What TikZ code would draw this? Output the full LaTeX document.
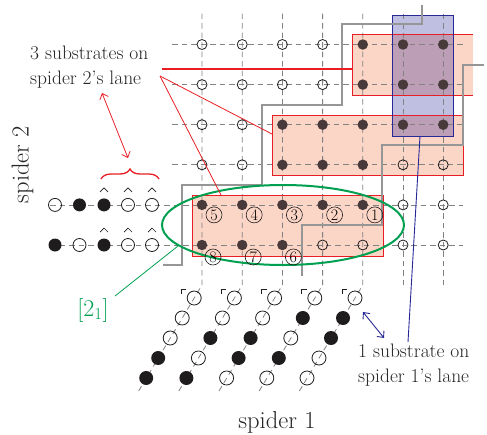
\documentclass[tikz,border=0pt]{standalone}
\usepackage{fontspec}
\usetikzlibrary{arrows.meta,decorations.pathreplacing,calc,shapes.geometric}
\definecolor{dashg}{RGB}{130,130,130}
\definecolor{stairg}{RGB}{150,150,150}
\definecolor{dotk}{RGB}{30,28,28}
\definecolor{dotb}{RGB}{72,58,58}
\definecolor{myred}{RGB}{232,30,36}
\definecolor{rfill}{RGB}{251,213,198}
\definecolor{mygreen}{RGB}{0,160,80}
\definecolor{myblue}{RGB}{40,40,150}
\definecolor{bfill}{RGB}{0,0,140}
\tikzset{
  gridline/.style={dashg, line width=0.8pt, dash pattern=on 5.5pt off 4pt},
  fdot/.style={circle, fill=dotb, inner sep=0pt, minimum size=10.5pt},
  odot/.style={circle, draw=dotk, line width=0.8pt, inner sep=0pt, minimum size=10pt},
  fbig/.style={circle, fill=dotk, inner sep=0pt, minimum size=14pt},
  obig/.style={circle, draw=dotk, line width=0.8pt, inner sep=0pt, minimum size=14pt},
  numc/.style={circle, draw=dotk, line width=0.6pt, inner sep=0pt, minimum size=16pt, font=\fontsize{16}{16}\selectfont},
  rbox/.style={fill=rfill},
  rborder/.style={draw=myred, line width=0.9pt},
  stair/.style={stairg, line width=2pt},
  annot/.style={inner sep=0pt, align=left, font=\fontsize{19.5}{25}\selectfont, text=black!85},
  hatp/.style={dotk, line width=0.7pt},
}
\begin{document}
\begin{tikzpicture}[x=1pt,y=-1pt]
\useasboundingbox (0,0) rectangle (487,434);
% grid coordinates
\foreach \c in {0,...,6}{
  \foreach \r in {0,...,5}{
    \coordinate (g\c\r) at ({202+40.2*\c},{245-40.1*\r});
  }
}
% red box fills and blue box fill
\fill[rbox] (352,34) rectangle (473,95);
\fill[rbox] (272,115) rectangle (463,175);
\fill[rbox] (192,195) rectangle (383,256);
\fill[bfill, fill opacity=0.25] (392,15) rectangle (453,136);
% horizontal dashed lines
\foreach \r in {2,...,5}{
  \draw[gridline] ($(g0\r)+(-30,0)$) -- ($(g6\r)+(20,0)$);
}
\foreach \r in {0,1}{
  \draw[gridline] ($(g0\r)+(-152,0)$) -- ($(g6\r)+(20,0)$);
}
% vertical dashed lines
\foreach \c in {0,...,4}{
  \coordinate (top\c) at ($(g\c5)+(0,-31)$);
  \coordinate (bend\c) at ($(g\c0)+(0,40)$);
  \coordinate (end\c) at ($(bend\c)+(-64,107)$);
  \draw[gridline] (top\c) -- (bend\c) -- (end\c);
}
\foreach \c in {5,6}{
  \draw[gridline] ($(g\c5)+(0,-31)$) -- ($(g\c0)+(0,40)$);
}
% grid dots
\foreach \p in {00,10,20,01,11,21,31,41,22,32,42,23,33,43,53,63,44,54,64,45,55,65}{
  \node[fdot] (d\p) at (g\p) {};
}
\foreach \p in {30,40,50,60,51,61,02,12,52,62,03,13,04,14,24,34,05,15,25,35}{
  \node[odot] (d\p) at (g\p) {};
}
% box borders
\draw[rborder] (473,34) -- (352,34) -- (352,95) -- (473,95);
\draw[rborder] (272,115) rectangle (463,175);
\draw[rborder] (192,195) rectangle (383,256);
\draw[myblue, line width=0.9pt] (392,15) rectangle (453,136);
% spider 2 dots
\foreach \i/\x in {0/55,1/79.5,2/104,3/128,4/152}{
  \coordinate (sa\i) at (\x,204.9);
  \coordinate (sb\i) at (\x,245);
}
\node[obig, minimum size=13pt] (a0) at (sa0) {};
\node[fbig, minimum size=13pt] (a1) at (sa1) {};
\node[fbig, minimum size=13pt] (a2) at (sa2) {};
\node[obig, minimum size=13pt] (a3) at (sa3) {};
\node[obig, minimum size=13pt] (a4) at (sa4) {};
\node[fbig, minimum size=13pt] (b0) at (sb0) {};
\node[obig, minimum size=13pt] (b1) at (sb1) {};
\node[fbig, minimum size=13pt] (b2) at (sb2) {};
\node[obig, minimum size=13pt] (b3) at (sb3) {};
\node[obig, minimum size=13pt] (b4) at (sb4) {};
\foreach \i in {2,3,4}{
  \draw[hatp] ($(sa\i)+(-4,-13)$) -- ($(sa\i)+(0,-17)$) -- ($(sa\i)+(4,-13)$);
  \draw[hatp] ($(sb\i)+(-4,-13)$) -- ($(sb\i)+(0,-17)$) -- ($(sb\i)+(4,-13)$);
}
% spider 1 dots
\foreach \k in {0,...,4}{
  \foreach \c in {0,...,4}{
    \pgfmathsetmacro{\yy}{298+20*\k}
    \pgfmathsetmacro{\xx}{202+40.2*\c-0.6*(\yy-285)}
    \coordinate (s\c\k) at (\xx,\yy);
  }
}
\foreach \c/\k in {3/1,4/1,1/2,2/2,4/2,0/3,2/3,3/3,0/4,1/4}{
  \node[fbig] (e\c\k) at (s\c\k) {};
}
\foreach \c/\k in {0/0,1/0,2/0,3/0,4/0,0/1,1/1,2/1,0/2,3/2,1/3,4/3,2/4,3/4,4/4}{
  \node[obig] (e\c\k) at (s\c\k) {};
}
\foreach \c in {0,...,4}{
  \draw[hatp] ($(s\c0)+(-13,-4)$) -- ($(s\c0)+(-13,-9)$) -- ($(s\c0)+(-8,-9)$);
}
% gray staircases
\draw[stair] (422,5) -- (422,24) -- (342,24) -- (342,105) -- (262,105) -- (262,185) -- (182,185) -- (182,265) -- (163,265);
\draw[stair] (484,65) -- (463,65) -- (463,145) -- (382,145) -- (382,225) -- (302,225) -- (302,276);
% green ellipse
\node[draw=mygreen, line width=2pt, ellipse, minimum width=242pt, minimum height=80pt, inner sep=0pt] (ell) at (283,225) {};
% circled numbers
\foreach \c/\n in {0/5,1/4,2/3,3/2,4/1}{
  \node[numc] (n\n) at ($(g\c1)+(12,10)$) {\n};
}
\foreach \c/\n in {0/8,1/7,2/6}{
  \node[numc] (n\n) at ($(g\c0)+(11,12)$) {\n};
}
% texts
\node[annot, anchor=west] (t2) at (30,67.5) {3 substrates on\\spider 2's lane};
\node[annot, anchor=west] (t1) at (358,365) {1 substrate on\\spider 1's lane};
\node[inner sep=0pt, font=\fontsize{24.5}{28}\selectfont, text=black!85] (sp1) at (277,422) {spider 1};
\node[inner sep=0pt, font=\fontsize{24.5}{28}\selectfont, text=black!85, rotate=90] (sp2) at (22.5,164.5) {spider 2};
\node[inner sep=0pt, font=\fontsize{24}{28}\selectfont, text=mygreen] (lab) at (93,310) {[2\textsubscript{1}]};
% red annotation lines
\coordinate (r1) at (162,69);
\coordinate (r0) at (160,76);
\draw[myred, line width=2pt] (r1) -- (352,69);
\draw[myred, line width=0.8pt] (r0) -- (272,134);
\draw[myred, line width=0.8pt] (r0) -- (221,195);
% brace and arrow
\draw[myred, line width=1.3pt, decorate, decoration={brace, amplitude=10pt}] (101,179) -- (159,179);
\coordinate (bt) at (128,158);
\coordinate (tt) at (102,93);
\draw[myred, line width=0.8pt, {Straight Barb[length=5pt,width=9pt]}-{Straight Barb[length=5pt,width=9pt]}] (bt) -- (tt);
% green connector
\coordinate (gl) at (115,296);
\draw[mygreen, line width=0.8pt] (178,246) -- (gl);
% blue connector and arrow
\draw[myblue, line width=0.9pt] (420,136) -- (408,342);
\coordinate (ba) at (363,312);
\coordinate (bb) at (384,338);
\draw[myblue, line width=0.9pt, {Straight Barb[length=5pt,width=9pt]}-{Straight Barb[length=5pt,width=9pt]}] (ba) -- (bb);
\end{tikzpicture}
\end{document}
